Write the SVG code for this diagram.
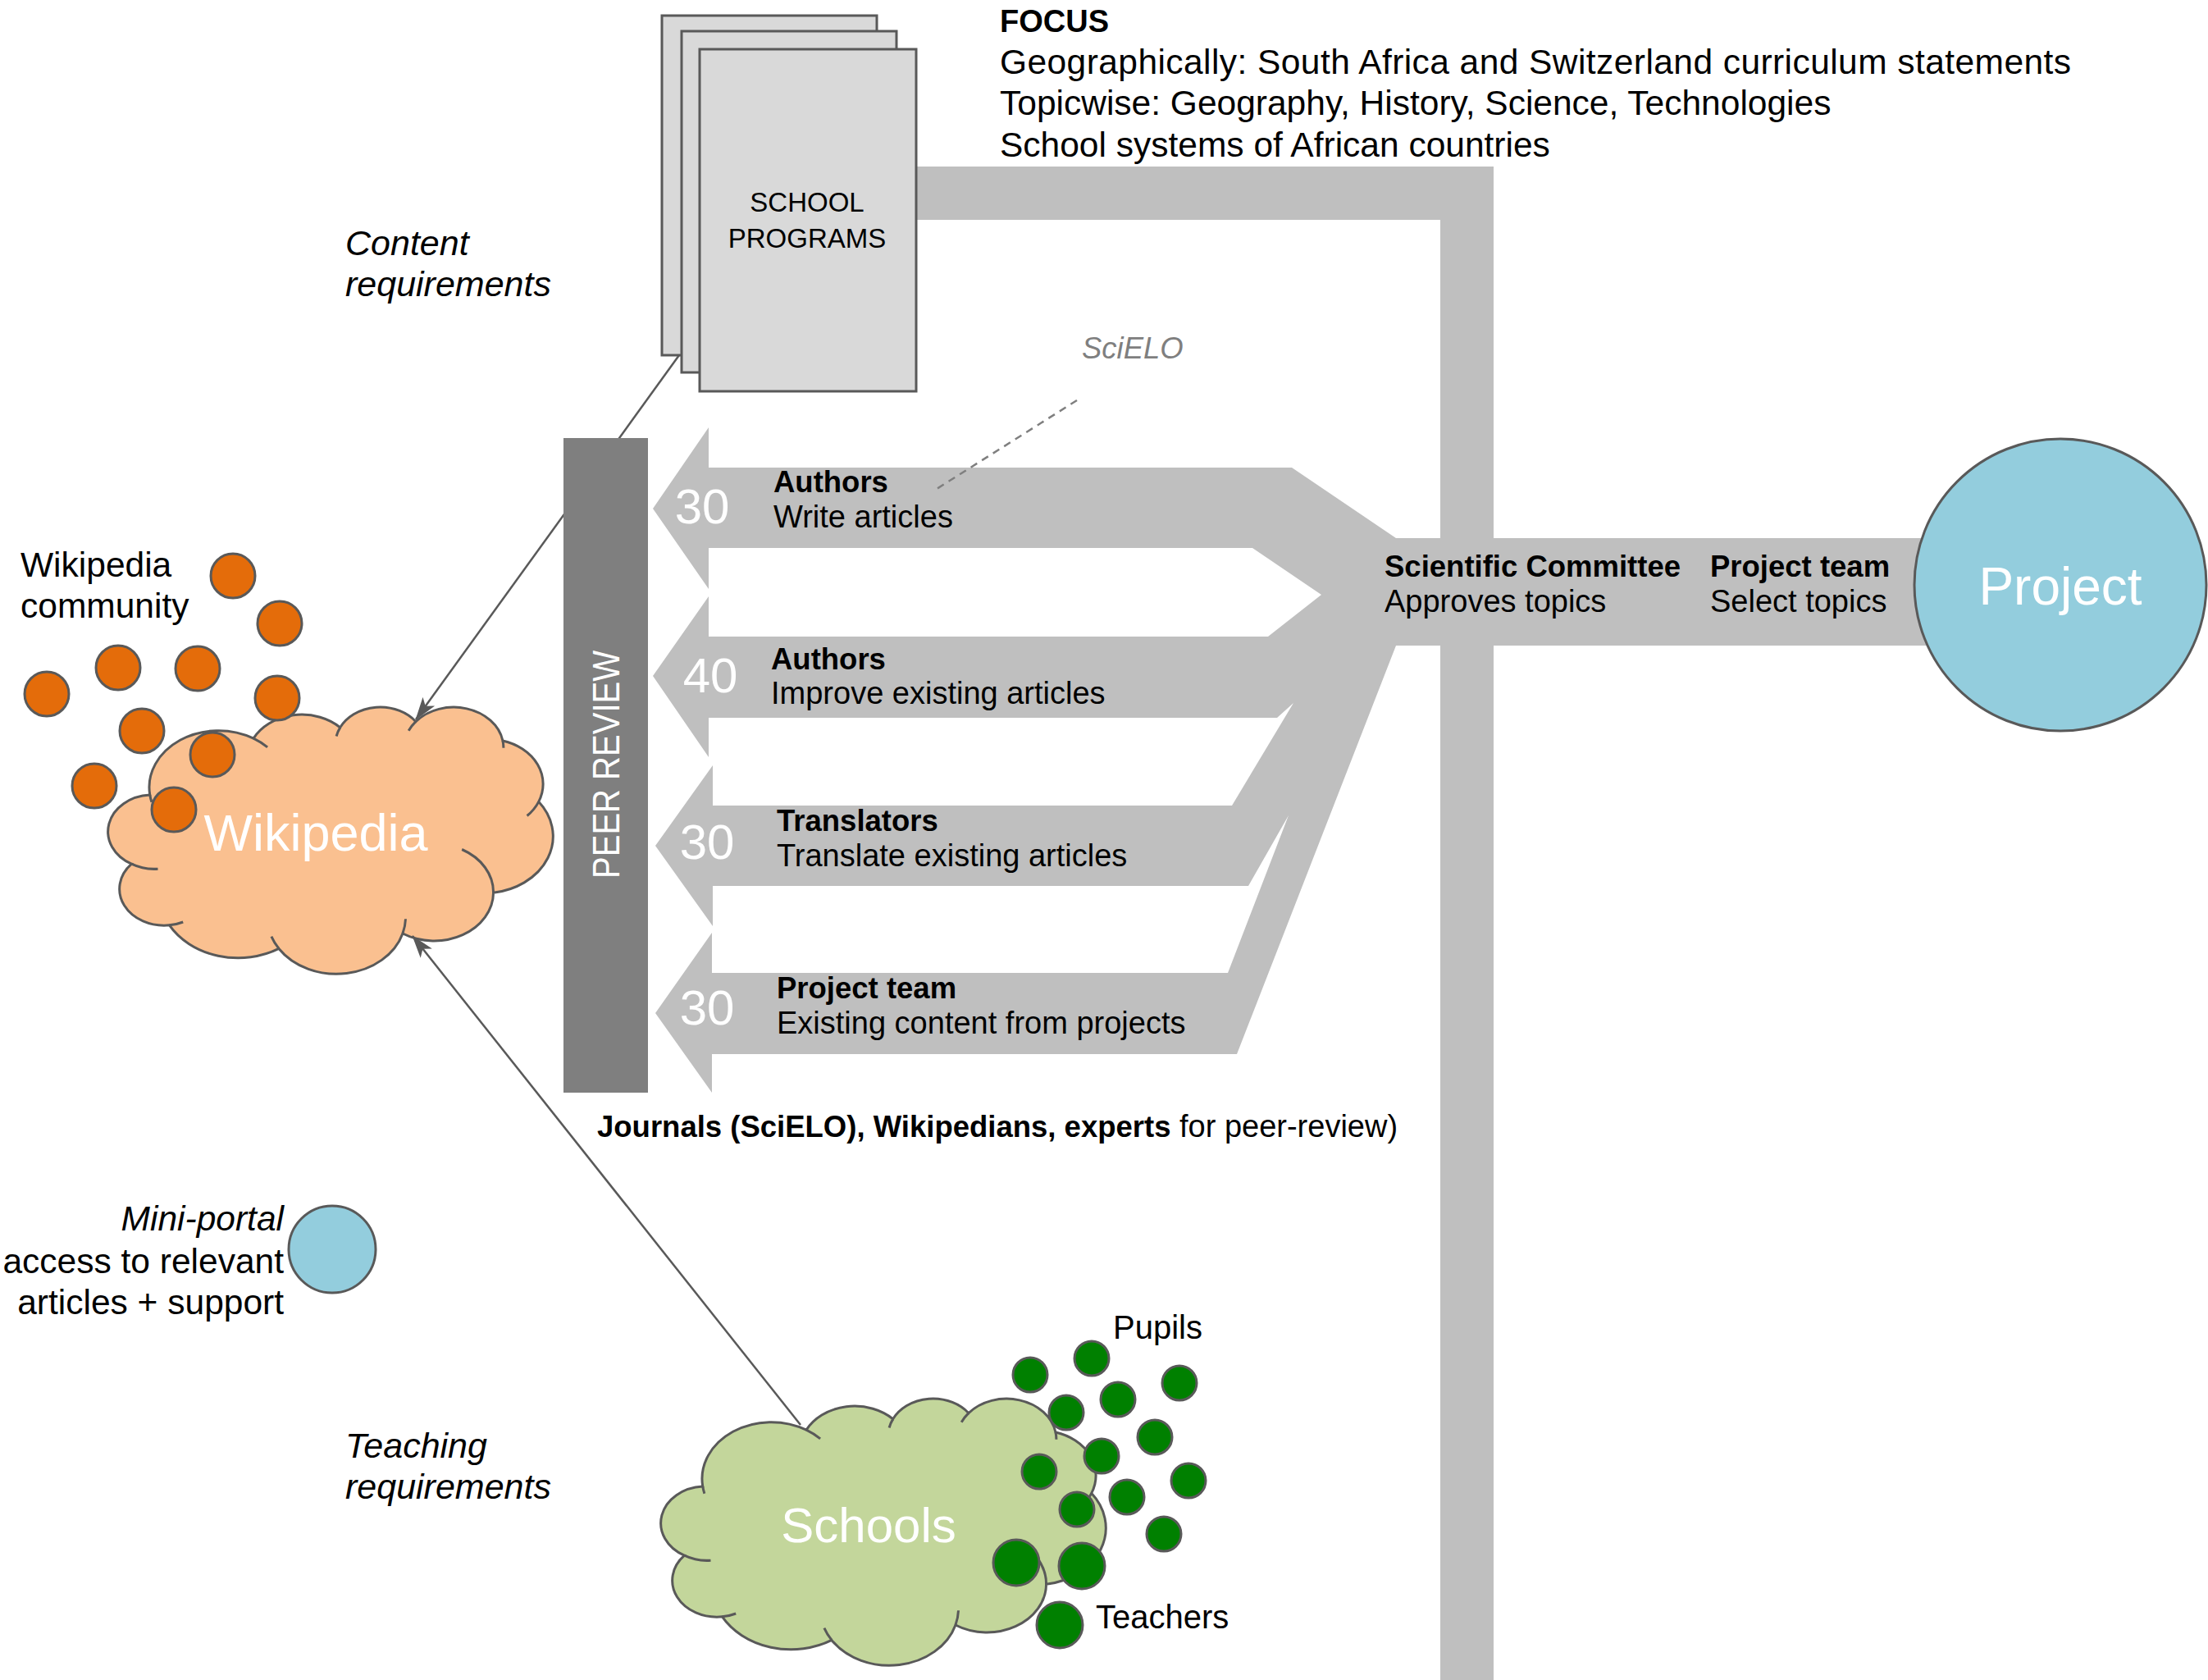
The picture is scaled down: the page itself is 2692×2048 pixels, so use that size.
<svg xmlns="http://www.w3.org/2000/svg" width="2692" height="2048" viewBox="0 0 2692 2048">
<style>
text{font-family:"Liberation Sans",Arial,sans-serif;fill:#000}
.lg{font-size:42.5px}
.md{font-size:38px}
.b{font-weight:bold;font-size:36.5px}
.it{font-style:italic;font-size:43px}
.wh{fill:#fff}
.band{fill:#bfbfbf}
.dot{stroke:#595959;stroke-width:3}
.o{fill:#e46c0a}
.g{fill:#008000}
.doc{fill:#d9d9d9;stroke:#595959;stroke-width:3}
.cloudline{stroke:#595959;stroke-width:3}
.crease{fill:none;stroke:#595959;stroke-width:3}
.conn{stroke:#595959;stroke-width:2.5;fill:none}
.num{font-size:60px;fill:#fff}
</style>
<defs>
<marker id="arr" markerUnits="userSpaceOnUse" markerWidth="28" markerHeight="20" viewBox="0 0 28 20" refX="27" refY="10" orient="auto">
<path d="M0,1 L28,10 L0,19 L7,10 Z" fill="#595959"/>
</marker>
<path id="cloud" d="M 48.75 108.11 A 84.41 69.14 0 0 1 175.07 39.14 A 66.66 54.67 0 0 1 280.72 25.84 A 54.56 44.73 0 0 1 372.93 18.68 A 60.71 49.61 0 0 1 478.98 41.98 A 66.66 54.72 0 0 1 522.73 116.34 A 84.69 69.36 0 0 1 467.56 227.27 A 72.31 59.18 0 0 1 356.96 277.00 A 84.40 69.33 0 0 1 205.99 295.43 A 96.50 79.32 0 0 1 72.54 266.86 A 54.50 44.52 0 0 1 26.40 192.22 A 54.31 44.73 0 0 1 48.75 108.11 Z"/>
<path id="creases" d="M 175.07 39.14 A 84.41 69.14 0 0 1 192.1 49.9 M 280.72 25.84 A 54.56 44.73 0 0 0 276.1 36.5 M 372.93 18.68 A 60.71 49.61 0 0 0 364.2 29.8 M 478.98 41.98 A 60.71 49.61 0 0 1 479.9 50.8 M 522.73 116.34 A 66.66 54.72 0 0 1 508.6 133.5 M 467.56 227.27 A 72.31 59.18 0 0 0 429.2 174.5 M 356.96 277.00 A 84.40 69.33 0 0 0 360.5 259.3 M 205.99 295.43 A 84.40 69.33 0 0 1 196.9 280.6 M 72.54 266.86 A 54.50 44.52 0 0 0 89.2 263.0 M 26.40 192.22 A 54.31 44.73 0 0 0 58.5 198.2 M 48.75 108.11 A 84.41 69.14 0 0 0 50.9 116.7"/>
</defs>
<rect x="0" y="0" width="2692" height="2048" fill="#fff"/>

<g id="focus-bar">
<polygon class="band" points="1110,203 1821,203 1821,2048 1756,2048 1756,268 1110,268"/>
</g>

<g id="contribution-arrows">
<polygon class="band" points="796,620 864,521 864,570 1575,570 1702,656 1702,787 1508,1285 868,1285 868,1332 799,1235 868,1137 868,1186 1497,1186 1571,994 1522,1080 869,1080 869,1129 799,1031 869,933 869,982 1502,982 1577,857 1557,875 864,875 864,923 796,824 864,727 864,776 1546,776 1611,725 1527,668 864,668 864,718"/>
<rect class="band" x="1690" y="656" width="660" height="131"/>
<text class="num" x="856" y="638" text-anchor="middle">30</text>
<text class="b" x="943" y="600">Authors</text>
<text class="md" x="943" y="643">Write articles</text>
<text class="num" x="866" y="844" text-anchor="middle">40</text>
<text class="b" x="940" y="816">Authors</text>
<text class="md" x="940" y="858">Improve existing articles</text>
<text class="num" x="862" y="1047" text-anchor="middle">30</text>
<text class="b" x="947" y="1013">Translators</text>
<text class="md" x="947" y="1056">Translate existing articles</text>
<text class="num" x="862" y="1249" text-anchor="middle">30</text>
<text class="b" x="947" y="1217">Project team</text>
<text class="md" x="947" y="1260">Existing content from projects</text>
</g>

<g id="committee">
<text class="b" x="1688" y="703">Scientific Committee</text>
<text class="md" x="1688" y="746">Approves topics</text>
<text class="b" x="2085" y="703">Project team</text>
<text class="md" x="2085" y="746">Select topics</text>
</g>

<g id="project">
<circle cx="2512" cy="713" r="178" fill="#93cddd" stroke="#595959" stroke-width="3"/>
<text x="2512" y="737" text-anchor="middle" class="wh" style="font-size:64px">Project</text>
</g>

<g id="school-programs">
<rect class="doc" x="807" y="19" width="262" height="414"/>
<rect class="doc" x="831" y="38" width="262" height="416"/>
<rect class="doc" x="853" y="60" width="264" height="417"/>
<text x="984" y="258" text-anchor="middle" style="font-size:33px">SCHOOL</text>
<text x="984" y="302" text-anchor="middle" style="font-size:33px">PROGRAMS</text>
</g>

<g id="focus-text">
<text x="1219" y="39" style="font-size:38px;font-weight:bold">FOCUS</text>
<text class="lg" x="1219" y="90" textLength="1306" lengthAdjust="spacing">Geographically: South Africa and Switzerland curriculum statements</text>
<text class="lg" x="1219" y="140">Topicwise: Geography, History, Science, Technologies</text>
<text class="lg" x="1219" y="191">School systems of African countries</text>
</g>

<g id="wikipedia">
<use href="#cloud" x="134" y="861" fill="#fac090" class="cloudline"/>
<use href="#creases" x="134" y="861" class="crease"/>
<text x="385" y="1037" text-anchor="middle" class="wh" style="font-size:63px">Wikipedia</text>
</g>

<g id="schools">
<use href="#cloud" x="808" y="1704" fill="#c3d69b" class="cloudline"/>
<use href="#creases" x="808" y="1704" class="crease"/>
<text x="1059" y="1880" text-anchor="middle" class="wh" style="font-size:60px">Schools</text>
</g>

<g id="connectors">
<line class="conn" x1="828" y1="433" x2="507" y2="877" marker-end="url(#arr)"/>
<line class="conn" x1="976" y1="1737" x2="503" y2="1141" marker-end="url(#arr)"/>
<line x1="1313" y1="488" x2="1142" y2="596" stroke="#7f7f7f" stroke-width="2.5" stroke-dasharray="9,7"/>
</g>

<g id="peer-review">
<rect x="687" y="534" width="103" height="798" fill="#7f7f7f"/>
<text transform="translate(755,932) rotate(-90)" text-anchor="middle" class="wh" style="font-size:46px" textLength="278" lengthAdjust="spacingAndGlyphs">PEER REVIEW</text>
</g>

<g id="wikipedia-community">
<text class="lg" x="25" y="703">Wikipedia</text>
<text class="lg" x="25" y="753">community</text>
<circle class="dot o" cx="284" cy="702" r="27"/>
<circle class="dot o" cx="341" cy="760" r="27"/>
<circle class="dot o" cx="57" cy="846" r="27"/>
<circle class="dot o" cx="144" cy="814" r="27"/>
<circle class="dot o" cx="241" cy="815" r="27"/>
<circle class="dot o" cx="338" cy="851" r="27"/>
<circle class="dot o" cx="173" cy="891" r="27"/>
<circle class="dot o" cx="259" cy="920" r="27"/>
<circle class="dot o" cx="115" cy="958" r="27"/>
<circle class="dot o" cx="212" cy="987" r="27"/>
</g>

<g id="pupils-teachers">
<circle class="dot g" cx="1256" cy="1676" r="21"/>
<circle class="dot g" cx="1331" cy="1656" r="21"/>
<circle class="dot g" cx="1438" cy="1686" r="21"/>
<circle class="dot g" cx="1300" cy="1722" r="21"/>
<circle class="dot g" cx="1363" cy="1706" r="21"/>
<circle class="dot g" cx="1408" cy="1752" r="21"/>
<circle class="dot g" cx="1343" cy="1775" r="21"/>
<circle class="dot g" cx="1267" cy="1794" r="21"/>
<circle class="dot g" cx="1449" cy="1805" r="21"/>
<circle class="dot g" cx="1374" cy="1825" r="21"/>
<circle class="dot g" cx="1313" cy="1840" r="21"/>
<circle class="dot g" cx="1419" cy="1870" r="21"/>
<circle class="dot g" cx="1239" cy="1905" r="28"/>
<circle class="dot g" cx="1319" cy="1909" r="28"/>
<circle class="dot g" cx="1292" cy="1981" r="28"/>
<text x="1357" y="1632" style="font-size:40px">Pupils</text>
<text x="1336" y="1985" style="font-size:40px">Teachers</text>
</g>

<g id="mini-portal">
<circle cx="405" cy="1523" r="53" fill="#93cddd" stroke="#595959" stroke-width="3"/>
<text class="lg" x="346" y="1500" text-anchor="end" style="font-style:italic">Mini-portal</text>
<text class="lg" x="346" y="1552" text-anchor="end">access to relevant</text>
<text class="lg" x="346" y="1602" text-anchor="end">articles + support</text>
</g>

<g id="labels">
<text class="it" x="421" y="311">Content</text>
<text class="it" x="421" y="361">requirements</text>
<text class="it" x="421" y="1777">Teaching</text>
<text class="it" x="421" y="1827">requirements</text>
<text x="1319" y="437" style="font-size:36.5px;font-style:italic;fill:#7f7f7f">SciELO</text>
<text x="728" y="1386"><tspan style="font-weight:bold;font-size:36.5px">Journals (SciELO), Wikipedians, experts</tspan><tspan style="font-size:38px"> for peer-review)</tspan></text>
</g>
</svg>
